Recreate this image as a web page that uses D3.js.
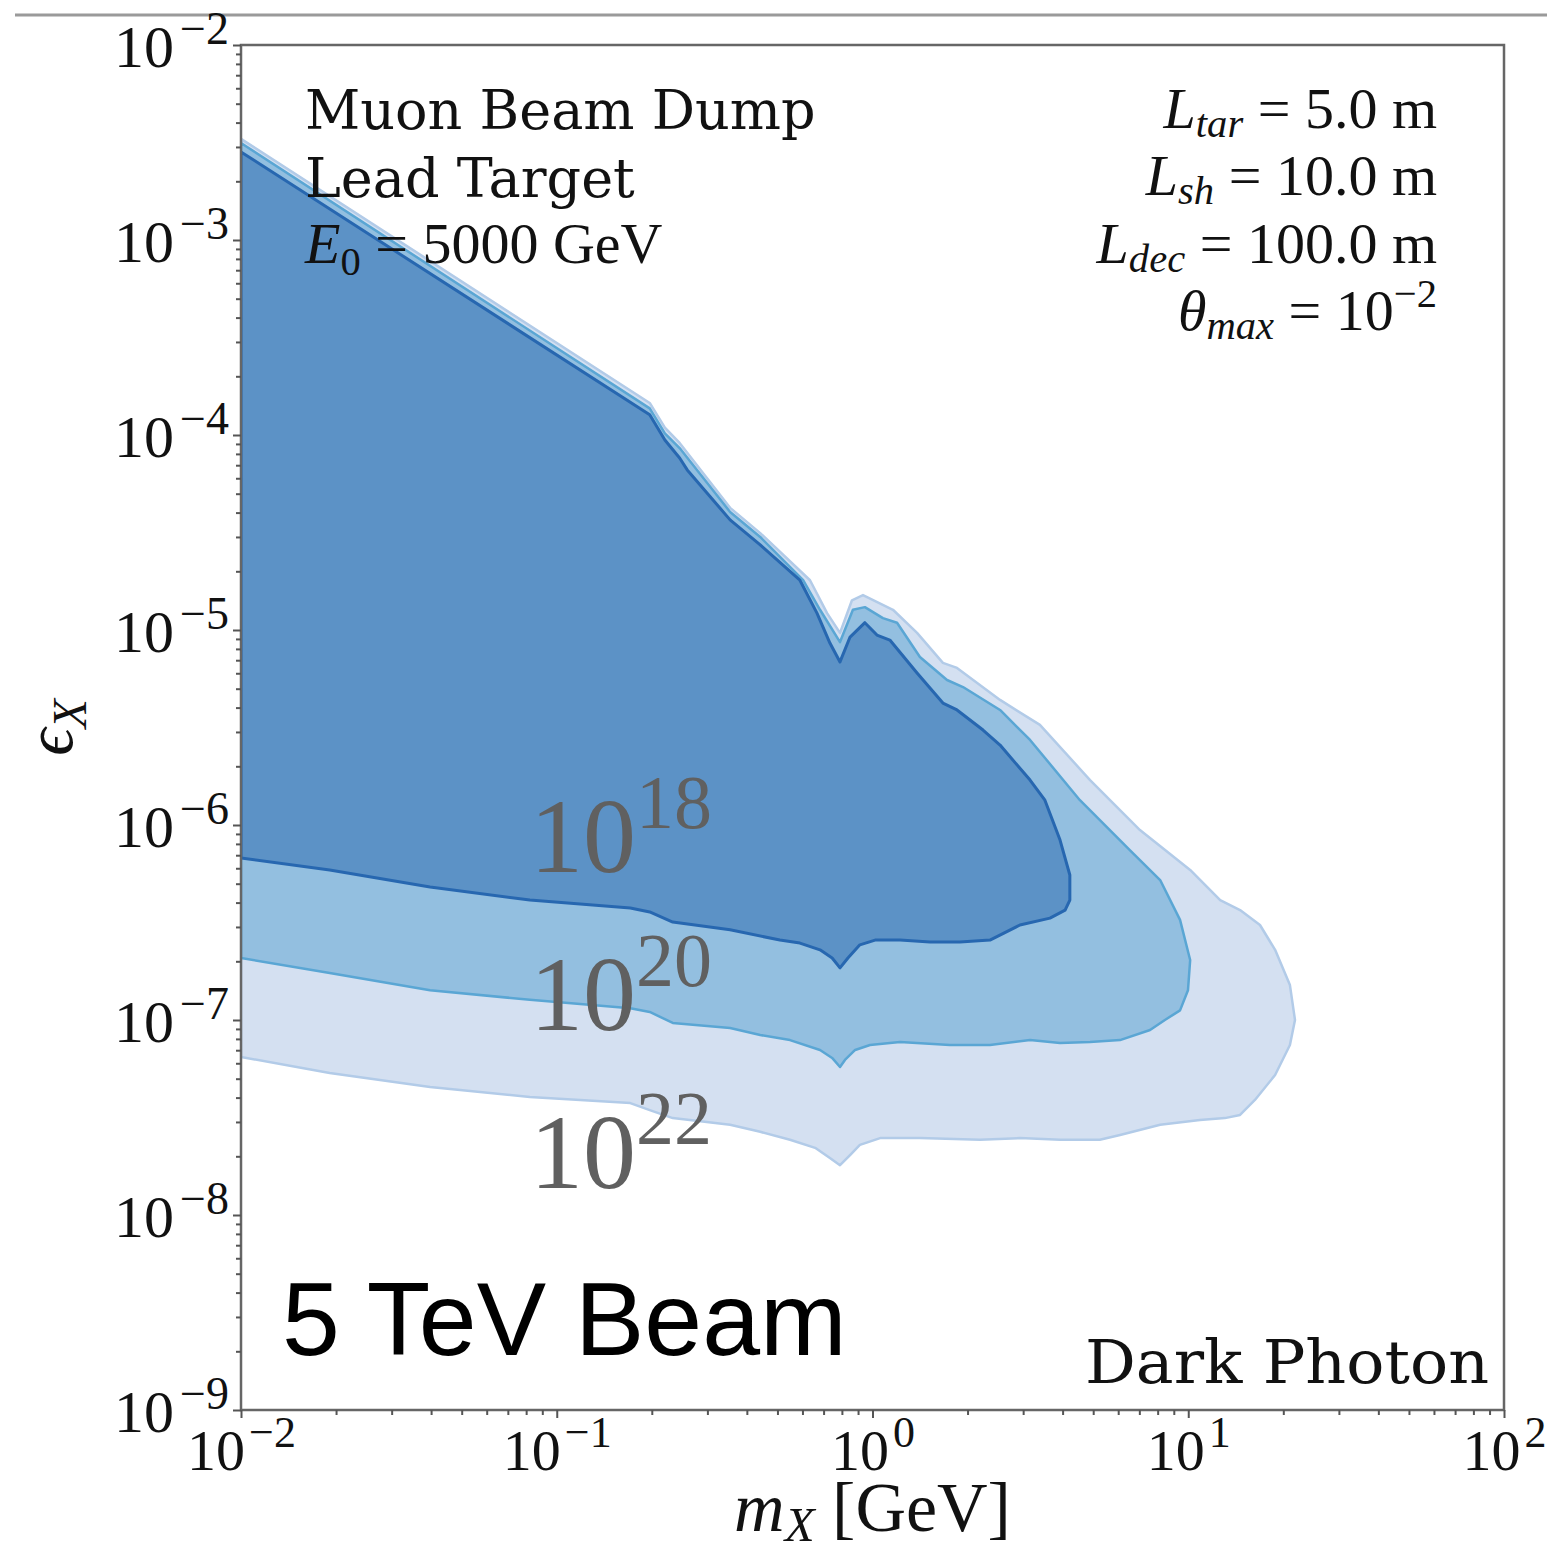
<!DOCTYPE html>
<html>
<head>
<meta charset="utf-8">
<script src="https://cdn.jsdelivr.net/npm/d3@7"></script>
<style>
  body { margin: 0; background: #fff; }
  svg { display: block; }
</style>
</head>
<body>
<script>
// contour regions, [m_X in GeV, eps_X] going round each closed shape
const region22 = [
  [0.01, 3.30e-3], [0.197, 1.46e-4], [0.220, 1.09e-4], [0.245, 9.1e-5], [0.354, 4.23e-5],
  [0.441, 3.14e-5], [0.634, 1.80e-5], [0.718, 1.22e-5], [0.789, 9.66e-6], [0.861, 1.42e-5],
  [0.933, 1.51e-5], [1.161, 1.27e-5], [1.384, 9.66e-6], [1.671, 6.78e-6], [1.852, 6.39e-6],
  [2.535, 4.38e-6], [3.390, 3.26e-6], [4.887, 1.70e-6], [7.031, 9.42e-7], [10.14, 5.88e-7],
  [12.62, 4.12e-7], [14.59, 3.66e-7], [16.87, 3.07e-7], [18.84, 2.29e-7], [20.99, 1.51e-7],
  [21.78, 1.0e-7], [20.99, 7.44e-8], [18.84, 5.22e-8], [16.26, 3.89e-8], [14.59, 3.26e-8],
  [13.06, 3.14e-8], [10.89, 3.07e-8], [8.147, 2.90e-8], [6.081, 2.57e-8], [5.248, 2.43e-8],
  [3.926, 2.43e-8], [2.930, 2.48e-8], [2.190, 2.43e-8], [1.413, 2.48e-8], [1.057, 2.48e-8],
  [0.912, 2.29e-8], [0.849, 2.03e-8], [0.789, 1.80e-8], [0.733, 1.96e-8], [0.658, 2.21e-8],
  [0.548, 2.43e-8], [0.441, 2.67e-8], [0.354, 2.90e-8], [0.233, 3.14e-8], [0.197, 3.45e-8],
  [0.171, 3.75e-8], [0.0822, 4.03e-8], [0.0397, 4.53e-8], [0.0191, 5.35e-8], [0.01, 6.46e-8]
];
const region20 = [
  [0.01, 3.14e-3], [0.197, 1.37e-4], [0.220, 1.02e-4], [0.245, 8.57e-5], [0.354, 4.03e-5],
  [0.441, 3.0e-5], [0.603, 1.80e-5], [0.682, 1.27e-5], [0.789, 8.67e-6], [0.867, 1.27e-5],
  [0.946, 1.31e-5], [1.079, 1.15e-5], [1.196, 1.09e-5], [1.413, 7.27e-6], [1.722, 5.54e-6],
  [1.935, 5.10e-6], [2.535, 3.89e-6], [3.155, 2.73e-6], [4.539, 1.34e-6], [6.531, 7.44e-7],
  [8.147, 5.22e-7], [9.419, 3.26e-7], [10.14, 2.03e-7], [9.98, 1.42e-7], [9.419, 1.12e-7],
  [8.433, 1.0e-7], [7.568, 8.88e-8], [6.081, 7.89e-8], [4.887, 7.71e-8], [3.926, 7.62e-8],
  [3.155, 7.89e-8], [2.355, 7.44e-8], [1.758, 7.44e-8], [1.222, 7.71e-8], [0.982, 7.44e-8],
  [0.881, 7.02e-8], [0.818, 6.24e-8], [0.789, 5.74e-8], [0.745, 6.39e-8], [0.682, 7.02e-8],
  [0.548, 7.89e-8], [0.441, 8.38e-8], [0.354, 9.10e-8], [0.233, 9.66e-8], [0.197, 1.10e-7],
  [0.171, 1.15e-7], [0.0822, 1.27e-7], [0.0397, 1.42e-7], [0.0191, 1.74e-7], [0.01, 2.08e-7]
];
const region18 = [
  [0.01, 2.83e-3], [0.197, 1.27e-4], [0.220, 9.43e-5], [0.245, 7.62e-5], [0.259, 6.62e-5],
  [0.354, 3.67e-5], [0.441, 2.73e-5], [0.589, 1.80e-5], [0.667, 1.22e-5], [0.733, 8.57e-6],
  [0.789, 6.86e-6], [0.849, 9.20e-6], [0.946, 1.09e-5], [1.033, 9.42e-6], [1.135, 8.88e-6],
  [1.384, 6.02e-6], [1.671, 4.22e-6], [1.852, 3.89e-6], [2.239, 3.07e-6], [2.535, 2.57e-6],
  [3.155, 1.70e-6], [3.516, 1.34e-6], [3.926, 8.37e-7], [4.217, 5.54e-7], [4.217, 4.12e-7],
  [4.074, 3.66e-7], [3.648, 3.33e-7], [2.930, 3.07e-7], [2.355, 2.57e-7], [1.892, 2.51e-7],
  [1.521, 2.51e-7], [1.222, 2.57e-7], [1.019, 2.57e-7], [0.912, 2.43e-7], [0.836, 2.08e-7],
  [0.789, 1.85e-7], [0.745, 2.08e-7], [0.682, 2.29e-7], [0.589, 2.48e-7], [0.509, 2.57e-7],
  [0.354, 2.90e-7], [0.233, 3.18e-7], [0.197, 3.58e-7], [0.171, 3.75e-7], [0.0822, 4.12e-7],
  [0.0397, 4.81e-7], [0.0191, 5.88e-7], [0.01, 6.78e-7]
];

const xMajor = [1e-2, 1e-1, 1, 10, 100];
const xMajorExp = ["\u22122", "\u22121", "0", "1", "2"];
const yMajor = [1e-2, 1e-3, 1e-4, 1e-5, 1e-6, 1e-7, 1e-8, 1e-9];
const yMajorExp = ["\u22122", "\u22123", "\u22124", "\u22125", "\u22126", "\u22127", "\u22128", "\u22129"];
const potLabels = ["18", "20", "22"];
const potEps = [5.74e-7, 8.88e-8, 1.38e-8];

const W = 1547, H = 1553;
const svg = d3.select("body").append("svg").attr("width", W).attr("height", H);

const pL = 241, pR = 1504, pT = 45, pB = 1410;
const x = d3.scaleLog().domain([1e-2, 1e2]).range([pL, pR]);
const y = d3.scaleLog().domain([1e-9, 1e-2]).range([pB, pT]);

// screenshot rule across the top
svg.append("line").attr("x1", 15).attr("x2", W).attr("y1", 15).attr("y2", 15)
  .attr("stroke", "#9a9a9a").attr("stroke-width", 3);

svg.append("clipPath").attr("id", "plotclip").append("rect")
  .attr("x", pL).attr("y", pT).attr("width", pR - pL).attr("height", pB - pT);

const line = d3.line().x(d => x(d[0])).y(d => y(d[1]));
const plot = svg.append("g").attr("clip-path", "url(#plotclip)");

const regions = [
  {pts: region22, fill: "#d4e0f1", stroke: "#b2cbe8", sw: 2.5},
  {pts: region20, fill: "#93bfe0", stroke: "#5aa6d4", sw: 2.5},
  {pts: region18, fill: "#5c92c6", stroke: "#2767b0", sw: 3}
];
regions.forEach(r => {
  plot.append("path").attr("d", line(r.pts) + "Z")
    .attr("fill", r.fill).attr("stroke", r.stroke).attr("stroke-width", r.sw)
    .attr("stroke-linejoin", "round");
});

// frame
svg.append("rect").attr("x", pL).attr("y", pT).attr("width", pR - pL).attr("height", pB - pT)
  .attr("fill", "none").attr("stroke", "#666").attr("stroke-width", 2.5);

// minor ticks
const xMinor = [];
for (let e = -2; e < 2; e++) for (let k = 2; k < 10; k++) xMinor.push(k * Math.pow(10, e));
const yMinor = [];
for (let e = -9; e < -2; e++) for (let k = 2; k < 10; k++) yMinor.push(k * Math.pow(10, e));

const serif = "'Liberation Serif', 'Times New Roman', serif";

function styleAxis(g) {
  g.select(".domain").remove();
  g.selectAll(".tick line").attr("stroke", "#555").attr("stroke-width", 2);
}

svg.append("g").attr("transform", `translate(0,${pB})`)
  .call(d3.axisBottom(x).tickValues(xMinor).tickSize(5).tickFormat(() => ""))
  .call(styleAxis);
svg.append("g").attr("transform", `translate(${pL},0)`)
  .call(d3.axisLeft(y).tickValues(yMinor).tickSize(5).tickFormat(() => ""))
  .call(styleAxis);

const xAxis = svg.append("g").attr("transform", `translate(0,${pB})`)
  .call(d3.axisBottom(x).tickValues(xMajor).tickSize(8).tickFormat(() => ""))
  .call(styleAxis);
xAxis.selectAll(".tick").each(function(d, i) {
  const t = d3.select(this).append("text")
    .attr("x", 0).attr("y", 60).attr("text-anchor", "middle")
    .attr("fill", "#111").style("font-family", serif).style("font-size", "58px");
  t.append("tspan").text("10");
  t.append("tspan").attr("dy", -23).attr("dx", 4).style("font-size", "44px").text(xMajorExp[i]);
});

const yAxis = svg.append("g").attr("transform", `translate(${pL},0)`)
  .call(d3.axisLeft(y).tickValues(yMajor).tickSize(8).tickFormat(() => ""))
  .call(styleAxis);
yAxis.selectAll(".tick").each(function(d, i) {
  const t = d3.select(this).append("text")
    .attr("x", -12).attr("y", 21).attr("text-anchor", "end")
    .attr("fill", "#111").style("font-family", serif).style("font-size", "60px");
  t.append("tspan").text("10");
  t.append("tspan").attr("dy", -23).attr("dx", 6).style("font-size", "46px").text(yMajorExp[i]);
});

// mixed text with italics / sub / superscripts
function mathText(parts, px, py, anchor, size, subShift) {
  const t = svg.append("text").attr("x", px).attr("y", py).attr("text-anchor", anchor)
    .attr("fill", "#111").style("font-family", serif).style("font-size", size + "px");
  let shift = 0;
  parts.forEach(p => {
    const target = p.sub ? size * (subShift || 0.2) : p.sup ? -size * 0.4 : 0;
    const s = t.append("tspan").text(p.t).attr("dy", target - shift);
    shift = target;
    if (p.i) s.style("font-style", "italic");
    if (p.sub || p.sup) s.style("font-size", (size * 0.7) + "px");
  });
  return t;
}

const dejavu = "'DejaVu Serif', serif";
svg.append("text").attr("x", 305).attr("y", 129).style("font-family", dejavu).style("font-size", "54px")
  .attr("fill", "#111").text("Muon Beam Dump");
svg.append("text").attr("x", 305).attr("y", 197).style("font-family", dejavu).style("font-size", "54px")
  .attr("fill", "#111").text("Lead Target");
mathText([{t: "E", i: true}, {t: "0", sub: true}, {t: " = 5000 GeV"}], 305, 263, "start", 58);

mathText([{t: "L", i: true}, {t: "tar", i: true, sub: true}, {t: " = 5.0 m"}], 1437, 128, "end", 58, 0.16);
mathText([{t: "L", i: true}, {t: "sh", i: true, sub: true}, {t: " = 10.0 m"}], 1437, 195, "end", 58, 0.16);
mathText([{t: "L", i: true}, {t: "dec", i: true, sub: true}, {t: " = 100.0 m"}], 1437, 263, "end", 58, 0.16);
mathText([{t: "\u03b8", i: true}, {t: "max", i: true, sub: true}, {t: " = 10"}, {t: "\u22122", sup: true}], 1437, 330, "end", 58, 0.16);

svg.append("text").attr("x", 1085).attr("y", 1383)
  .attr("textLength", 404).attr("lengthAdjust", "spacingAndGlyphs")
  .style("font-family", dejavu).style("font-size", "59px").attr("fill", "#111").text("Dark Photon");

svg.append("text").attr("x", 282).attr("y", 1355)
  .style("font-family", "'Liberation Sans', Arial, sans-serif").style("font-size", "104px")
  .attr("fill", "#000").text("5 TeV Beam");

// axis labels
mathText([{t: "m", i: true}, {t: "X", i: true, sub: true}, {t: " [GeV]"}], (pL + pR) / 2, 1531, "middle", 70, 0.14);
const yl = svg.append("text").attr("transform", `translate(72,${(pT + pB) / 2}) rotate(-90)`)
  .attr("text-anchor", "middle").attr("fill", "#111").style("font-family", serif).style("font-size", "68px");
yl.append("tspan").style("font-style", "italic").text("\u03f5");
yl.append("tspan").attr("dy", 14).style("font-style", "italic").style("font-size", "48px").text("X");

// exposure labels
potLabels.forEach((p, i) => {
  const t = svg.append("text").attr("x", 530).attr("y", y(potEps[i]))
    .attr("fill", "#606060").style("font-family", serif).style("font-size", "106px");
  t.append("tspan").text("10");
  t.append("tspan").attr("dy", -44).style("font-size", "76px").text(p);
});
</script>
</body>
</html>
